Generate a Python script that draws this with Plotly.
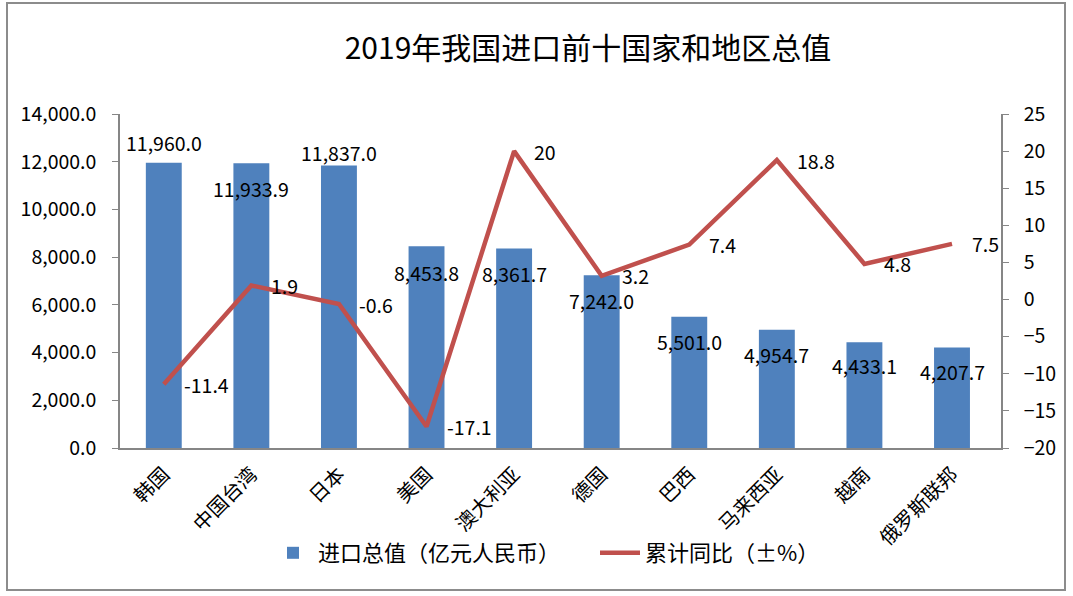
import plotly.graph_objects as go

categories = ["韩国", "中国台湾", "日本", "美国", "澳大利亚", "德国", "巴西", "马来西亚", "越南", "俄罗斯联邦"]
import_values = [11960.0, 11933.9, 11837.0, 8453.8, 8361.7, 7242.0, 5501.0, 4954.7, 4433.1, 4207.7]
yoy_values = [-11.4, 1.9, -0.6, -17.1, 20, 3.2, 7.4, 18.8, 4.8, 7.5]
yoy_labels = ["-11.4", "1.9", "-0.6", "-17.1", "20", "3.2", "7.4", "18.8", "4.8", "7.5"]
bar_label_shift = [20, -25, 13, -26, -25, -25, -25, -25, -23, -24]

FONT = "Noto Sans CJK SC"
BLUE = "#4F81BD"
RED = "#C0504D"
AXIS = "#868686"

W, H = 1073, 596
L, R, T, B = 120, 72, 114, 148

fig = go.Figure()
fig.add_trace(go.Bar(
    x=categories, y=import_values, name="进口总值（亿元人民币）",
    marker=dict(color=BLUE, line=dict(width=0)), width=0.41, yaxis="y",
))
fig.add_trace(go.Scatter(
    x=categories, y=yoy_values, name="累计同比（±%）", mode="lines",
    line=dict(color=RED, width=4.5), yaxis="y2",
))

annotations = []
for c, v, s in zip(categories, import_values, bar_label_shift):
    annotations.append(dict(x=c, y=v, xref="x", yref="y", text=f"{v:,.1f}", showarrow=False,
                            yshift=s, xanchor="center", yanchor="middle",
                            font=dict(family=FONT, size=19.5, color="#000000")))
for c, v, t in zip(categories, yoy_values, yoy_labels):
    annotations.append(dict(x=c, y=v, xref="x", yref="y2", text=t, showarrow=False,
                            xshift=18, xanchor="left", yanchor="middle",
                            font=dict(family=FONT, size=19.5, color="#000000")))

pw = W - L - R
ph = H - T - B
def px(xp):
    return (xp - L) / pw
def py(yp):
    return (H - B - yp) / ph

fig.update_layout(
    width=W, height=H,
    margin=dict(l=L, r=R, t=T, b=B, autoexpand=False),
    paper_bgcolor="white", plot_bgcolor="white",
    font=dict(family=FONT, size=19, color="#000000"),
    title=dict(text="2019年我国进口前十国家和地区总值", x=588 / W, xanchor="center",
               y=1 - 48 / H, yanchor="middle", font=dict(family=FONT, size=30, color="#000000")),
    xaxis=dict(type="category", showline=True, linecolor=AXIS, linewidth=1.5, ticks="",
               tickangle=-45, tickfont=dict(family=FONT, size=20), automargin=False, showgrid=False,
               ticklabelstandoff=5),
    yaxis=dict(range=[0, 14000], dtick=2000, tickformat=",.1f", showline=True, linecolor=AXIS,
               linewidth=1.5, ticks="outside", ticklen=6, tickcolor=AXIS, showgrid=False,
               zeroline=False, automargin=False, tickfont=dict(family=FONT, size=19.5),
               ticklabelstandoff=12),
    yaxis2=dict(range=[-20, 25], dtick=5, overlaying="y", side="right", showline=True,
                linecolor=AXIS, linewidth=1.5, ticks="outside", ticklen=6, tickcolor=AXIS,
                showgrid=False, zeroline=False, automargin=False, tickfont=dict(family=FONT, size=19.5),
                ticklabelstandoff=11),
    legend=dict(orientation="h", x=px(268), xanchor="left", y=py(553), yanchor="middle",
                font=dict(family=FONT, size=22), bgcolor="rgba(0,0,0,0)", itemwidth=40,
                entrywidth=272, entrywidthmode="pixels"),
    showlegend=True,
    annotations=annotations,
    shapes=[dict(type="rect", xref="paper", yref="paper", x0=px(7), x1=px(1065), y0=py(590), y1=py(3),
                 line=dict(color="#8C8C8C", width=2), fillcolor="rgba(0,0,0,0)", layer="below")],
)

fig.write_html("out.html", config={"displayModeBar": False},
               post_script="document.body.style.margin='0';document.body.style.overflow='hidden';")
